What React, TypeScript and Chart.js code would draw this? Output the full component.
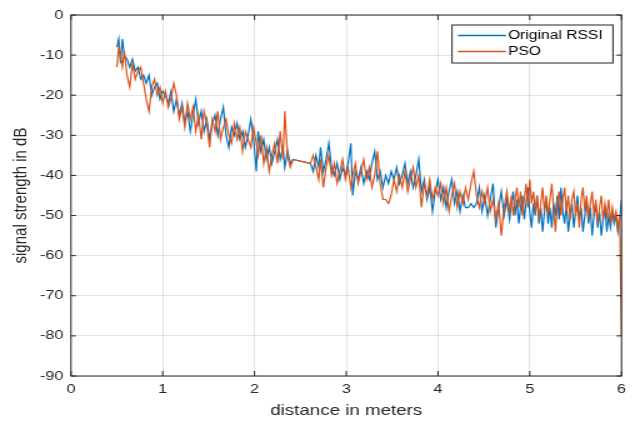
import { useEffect, useRef } from 'react';
import { Chart, registerables } from 'chart.js';

Chart.register(...registerables);

// distance in meters (shared by both series)
const distance = [
  0.50, 0.52, 0.54, 0.56, 0.58, 0.61, 0.64, 0.67, 0.70, 0.73, 0.76, 0.79, 0.82, 0.85, 0.88, 0.91, 0.94, 0.97,
  1.00, 1.03, 1.06, 1.09, 1.12, 1.15, 1.18, 1.21, 1.24, 1.27, 1.30, 1.33, 1.36, 1.39, 1.42, 1.45, 1.48, 1.51,
  1.54, 1.57, 1.60, 1.63, 1.66, 1.69, 1.72, 1.75, 1.78, 1.81, 1.84, 1.87, 1.90, 1.93, 1.96, 1.99,
  2.02, 2.04, 2.07, 2.10, 2.13, 2.16, 2.19, 2.22, 2.25, 2.28, 2.31, 2.33, 2.36, 2.39, 2.42,
  2.61, 2.64, 2.67, 2.70, 2.72, 2.75, 2.78, 2.81, 2.84, 2.87,
  2.90, 2.93, 2.96, 2.99, 3.02, 3.05, 3.07, 3.10, 3.13, 3.16,
  3.19, 3.22, 3.25, 3.28, 3.31, 3.34, 3.37, 3.40, 3.43, 3.46,
  3.49, 3.52, 3.55, 3.58, 3.61, 3.64, 3.67, 3.70, 3.73, 3.76,
  3.79, 3.82, 3.85, 3.88, 3.91, 3.94, 3.97,
  4.00, 4.03, 4.06, 4.09, 4.12, 4.15, 4.18, 4.21, 4.24, 4.27,
  4.30, 4.33, 4.36, 4.39, 4.42, 4.45, 4.48, 4.51, 4.54, 4.57,
  4.60, 4.63, 4.66, 4.69, 4.72, 4.75, 4.78,
  4.80, 4.82, 4.84, 4.86, 4.88, 4.90, 4.92, 4.94, 4.96, 4.98,
  5.00, 5.02, 5.04, 5.06, 5.08, 5.10, 5.12, 5.14, 5.16, 5.18,
  5.20, 5.22, 5.24, 5.26, 5.28, 5.30, 5.32, 5.34, 5.36, 5.38,
  5.40, 5.42, 5.44, 5.46, 5.48, 5.50, 5.52, 5.54, 5.56, 5.58,
  5.60, 5.62, 5.64, 5.66, 5.68, 5.70, 5.72, 5.74, 5.76, 5.78,
  5.80, 5.82, 5.84, 5.86, 5.88, 5.90, 5.92, 5.94, 5.96, 5.98,
  6.00,
];

const originalRssi = [
  -8, -6, -12, -6, -10, -11, -13, -11, -14, -13, -16, -15, -17, -15, -20, -18, -17, -21,
  -19, -20, -22, -19, -24, -21, -25, -22, -27, -24, -29, -25, -21, -27, -24, -29, -26, -31,
  -27, -25, -30, -26, -23, -30, -33, -28, -30, -27, -31, -29, -33, -30, -26, -31,
  -39, -29, -34, -31, -36, -33, -37, -34, -31, -36, -33, -38, -34, -37, -36,
  -37, -39, -35, -38, -33, -39, -36, -32, -38, -40,
  -37, -41, -38, -40, -37, -32, -45, -39, -41, -38,
  -42, -39, -41, -37, -34, -41, -39, -43, -40, -42,
  -39, -41, -38, -42, -40, -37, -42, -39, -43, -40,
  -36, -44, -41, -46, -43, -49, -44,
  -41, -46, -43, -48, -44, -41, -47, -44, -49, -45,
  -48, -48, -47, -48, -47, -43, -49, -45, -50, -46,
  -42, -53, -48, -44, -50, -46, -51,
  -47, -44, -50, -46, -52, -48, -45, -51, -47, -43,
  -49, -53, -47, -50, -45, -52, -48, -54, -49, -46,
  -52, -48, -53, -47, -50, -45, -51, -43, -49, -52,
  -47, -54, -50, -47, -53, -49, -45, -51, -48, -54,
  -50, -46, -52, -48, -55, -50, -47, -53, -49, -55,
  -51, -48, -54, -50, -53, -49, -52, -50, -54, -51,
  -46,
];

const psoRssi = [
  -13, -8, -10, -13, -9, -15, -18, -12, -16, -14, -13, -17, -21, -24, -18, -16, -20, -18,
  -22, -19, -23, -21, -17, -20, -26, -23, -28, -22, -26, -23, -29, -25, -31, -24, -27, -33,
  -26, -29, -24, -31, -28, -26, -30, -32, -27, -31, -28, -34, -29, -31, -33, -28,
  -32, -35, -30, -37, -33, -39, -35, -32, -37, -29, -36, -24, -35, -38, -36,
  -37, -35, -38, -41, -36, -43, -38, -35, -40, -37,
  -42, -39, -36, -41, -38, -43, -40, -37, -42, -39,
  -36, -41, -38, -43, -40, -34, -42, -46, -46, -47,
  -45, -41, -44, -40, -43, -39, -44, -41, -38, -43,
  -40, -48, -42, -45, -41, -46, -43,
  -45, -42, -47, -43, -49, -45, -42, -48, -44, -47,
  -43, -46, -42, -39, -45, -48, -44, -47, -43, -49,
  -46, -51, -47, -55, -48, -44, -49,
  -45, -50, -46, -43, -48, -44, -50, -46, -42, -48,
  -41, -47, -44, -49, -45, -51, -47, -43, -49, -45,
  -50, -46, -42, -48, -54, -47, -44, -50, -46, -43,
  -49, -45, -51, -46, -44, -50, -47, -53, -46, -43,
  -49, -45, -51, -47, -44, -50, -46, -52, -48, -45,
  -51, -47, -50, -46, -52, -48, -51, -49, -53, -50,
  -80,
];

const seriesLabels = ['Original RSSI', 'PSO'];
const seriesColors = ['#0072BD', '#D95319'];
const xTickValues = [0, 1, 2, 3, 4, 5, 6];
const yTickValues = [0, -10, -20, -30, -40, -50, -60, -70, -80, -90];
const xTitle = 'distance in meters';
const yTitle = 'signal strength in dB';

const SX = 1.25; // horizontal stretch of the reference figure
const W = 638;
const H = 421;
const CW = W / SX;
const FONT = '"Liberation Sans", Arial, Helvetica, sans-serif';
const AXIS = '#262626';

const framePlugin = {
  id: 'matlabFrame',
  afterDatasetsDraw(chart: any) {
    const { ctx, chartArea } = chart;
    const { left, right, top, bottom } = chartArea;
    const xs = chart.scales.x;
    const ys = chart.scales.y;
    ctx.save();
    ctx.strokeStyle = AXIS;
    ctx.lineWidth = 1;
    ctx.strokeRect(left, top, right - left, bottom - top);
    ctx.beginPath();
    const tx = 5;
    const ty = 5 / SX;
    xs.ticks.forEach((t: any) => {
      const p = xs.getPixelForValue(t.value);
      ctx.moveTo(p, bottom);
      ctx.lineTo(p, bottom - tx);
      ctx.moveTo(p, top);
      ctx.lineTo(p, top + tx);
    });
    ys.ticks.forEach((t: any) => {
      const p = ys.getPixelForValue(t.value);
      ctx.moveTo(left, p);
      ctx.lineTo(left + ty, p);
      ctx.moveTo(right, p);
      ctx.lineTo(right - ty, p);
    });
    ctx.stroke();

    // legend box
    const lx0 = 452 / SX;
    const lx1 = 613 / SX;
    const ly0 = 25;
    const ly1 = 63;
    ctx.fillStyle = '#ffffff';
    ctx.fillRect(lx0, ly0, lx1 - lx0, ly1 - ly0);
    ctx.strokeStyle = AXIS;
    ctx.lineWidth = 1;
    ctx.strokeRect(lx0, ly0, lx1 - lx0, ly1 - ly0);
    const rows = [35.5, 51.5];
    chart.data.datasets.forEach((ds: any, i: number) => {
      const y = rows[i];
      ctx.beginPath();
      ctx.strokeStyle = seriesColors[i];
      ctx.lineWidth = 1.3;
      ctx.moveTo(458 / SX, y);
      ctx.lineTo(506 / SX, y);
      ctx.stroke();
      ctx.fillStyle = '#000000';
      ctx.font = `12.5px ${FONT}`;
      ctx.textBaseline = 'middle';
      ctx.textAlign = 'left';
      ctx.fillText(ds.label, 508 / SX, y + 0.5);
    });
    ctx.restore();
  },
};

export default function App() {
  const ref = useRef<HTMLCanvasElement | null>(null);

  useEffect(() => {
    if (!ref.current) return;
    const chart = new Chart(ref.current, {
      type: 'line',
      data: {
        datasets: [
          {
            label: seriesLabels[0],
            data: distance.map((d, i) => ({ x: d, y: originalRssi[i] })),
            borderColor: seriesColors[0],
            backgroundColor: seriesColors[0],
            borderWidth: 1.2,
            pointRadius: 0,
            tension: 0,
            order: 2,
          },
          {
            label: seriesLabels[1],
            data: distance.map((d, i) => ({ x: d, y: psoRssi[i] })),
            borderColor: seriesColors[1],
            backgroundColor: seriesColors[1],
            borderWidth: 1.2,
            pointRadius: 0,
            tension: 0,
            order: 1,
          },
        ],
      },
      options: {
        responsive: false,
        animation: false,
        devicePixelRatio: 1,
        layout: { padding: { left: 0, top: 15, right: CW - 622 / SX, bottom: 0 } },
        plugins: {
          legend: { display: false },
          tooltip: { enabled: false },
        },
        scales: {
          x: {
            type: 'linear',
            min: 0,
            max: 6,
            afterBuildTicks: (s: any) => {
              s.ticks = xTickValues.map((v) => ({ value: v }));
            },
            afterFit: (s: any) => {
              s.height = 45;
            },
            ticks: {
              color: AXIS,
              font: { family: FONT, size: 13 },
              padding: 6,
              maxRotation: 0,
            },
            grid: { color: 'rgba(38,38,38,0.13)', lineWidth: 1, drawTicks: false },
            border: { display: false },
            title: {
              display: true,
              text: xTitle,
              color: AXIS,
              font: { family: FONT, size: 15 },
              padding: { top: 0, bottom: 1 },
            },
          },
          y: {
            type: 'linear',
            min: -90,
            max: 0,
            afterBuildTicks: (s: any) => {
              s.ticks = yTickValues.map((v) => ({ value: v }));
            },
            afterFit: (s: any) => {
              s.width = 71 / SX;
            },
            ticks: {
              color: AXIS,
              font: { family: FONT, size: 13 },
              padding: 6,
            },
            grid: { color: 'rgba(38,38,38,0.13)', lineWidth: 1, drawTicks: false },
            border: { display: false },
            title: {
              display: true,
              text: yTitle,
              color: AXIS,
              font: { family: FONT, size: 15 },
              padding: { top: 8, bottom: 0 },
            },
          },
        },
      },
      plugins: [framePlugin],
    } as any);
    return () => chart.destroy();
  }, []);

  return (
    <div style={{ position: 'fixed', left: 0, top: 0, width: W, height: H, background: '#fff', overflow: 'hidden' }}>
      <canvas
        ref={ref}
        width={CW}
        height={H}
        style={{ display: 'block', transform: `scaleX(${SX})`, transformOrigin: '0 0' }}
      />
    </div>
  );
}
